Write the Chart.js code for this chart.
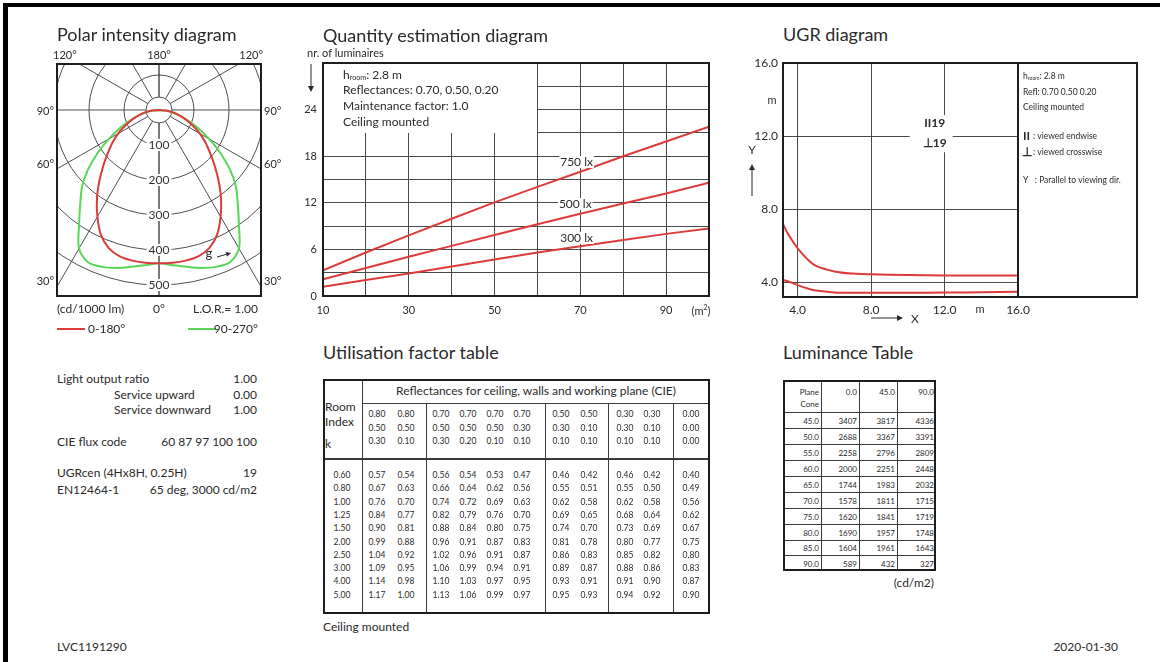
<!DOCTYPE html>
<html>
<head>
<meta charset="utf-8">
<title>Photometric data sheet</title>
<script src="https://cdn.jsdelivr.net/npm/chart.js@4.4.1/dist/chart.umd.min.js"></script>
<style>
  body { margin: 0; background: #fff; }
  #page { position: relative; width: 1169px; height: 662px; overflow: hidden; font-family: Lato, 'Open Sans', sans-serif; color: #2a2a2a; }
  #page canvas { position: absolute; }
  .t { position: absolute; white-space: nowrap; line-height: 1; }
  .r { position: absolute; background: #3a3a3a; }
  .b { position: absolute; box-sizing: border-box; border: 2px solid #1e1e1e; }
</style>
</head>
<body>
<div id="page">
  <div class="r" style="left:3px;top:3px;width:1157px;height:4px;background:#000"></div>
  <div class="r" style="left:3px;top:3px;width:5px;height:659px;background:#000"></div>
  <canvas id="polar" width="270" height="300" style="left:20px;top:40px"></canvas>
  <canvas id="qty" width="430" height="280" style="left:290px;top:40px"></canvas>
  <canvas id="ugr" width="429" height="290" style="left:740px;top:50px"></canvas>
</div>
<script>
// polar intensity (cd/1000 lm), gamma 0 = straight down
const polarGamma = [0, 5, 10, 15, 20, 25, 30, 35, 40, 45, 50, 55, 60, 65, 70, 75, 80, 85, 90];
const polar0to180 = [438, 438, 437, 433, 420, 393, 352, 309, 265, 225, 190, 162, 135, 107, 82, 60, 40, 20, 0];
const polar90to270 = [438, 445, 455, 467, 477, 480, 457, 398, 350, 311, 265, 214, 165, 124, 88, 60, 38, 18, 0];
const polarRings = [100, 200, 300, 400, 500];
const polarSpokes = [0, 30, 60, 90, 120, 150, 180];
const polarHub = 37;

// quantity estimation (m2 -> nr. of luminaires)
const qtyArea = [10, 20, 30, 40, 50, 60, 70, 80, 90, 100];
const qty750 = [3.3, 5.6, 7.8, 9.95, 12.05, 14.05, 16.0, 18.0, 19.9, 21.8];
const qty500 = [2.15, 3.6, 5.05, 6.45, 7.85, 9.25, 10.6, 11.9, 13.2, 14.6];
const qty300 = [1.2, 2.05, 2.9, 3.8, 4.7, 5.6, 6.4, 7.2, 8.0, 8.7];
const qtyXLabels = [10, 30, 50, 70, 90];
const qtyYLabels = [0, 6, 12, 18, 24];

// UGR diagram
const ugrX = [3.2, 3.5, 4, 4.5, 5, 6, 7, 8, 10, 12, 14, 16];
const ugrUpper = [7.18, 6.6, 5.86, 5.3, 4.9, 4.6, 4.48, 4.44, 4.4, 4.38, 4.38, 4.38];
const ugrLower = [4.13, 4.05, 3.85, 3.68, 3.55, 3.45, 3.43, 3.43, 3.43, 3.44, 3.46, 3.49];
const ugrTicks = [4, 8, 12, 16];

// utilisation factor table
const utRoomIndex = [0.60, 0.80, 1.00, 1.25, 1.50, 2.00, 2.50, 3.00, 4.00, 5.00];
const utCeiling = [0.80, 0.80, 0.70, 0.70, 0.70, 0.70, 0.50, 0.50, 0.30, 0.30, 0.00];
const utWalls = [0.50, 0.50, 0.50, 0.50, 0.50, 0.30, 0.30, 0.10, 0.30, 0.10, 0.00];
const utPlane = [0.30, 0.10, 0.30, 0.20, 0.10, 0.10, 0.10, 0.10, 0.10, 0.10, 0.00];
const utValues = [
  [0.57, 0.54, 0.56, 0.54, 0.53, 0.47, 0.46, 0.42, 0.46, 0.42, 0.40],
  [0.67, 0.63, 0.66, 0.64, 0.62, 0.56, 0.55, 0.51, 0.55, 0.50, 0.49],
  [0.76, 0.70, 0.74, 0.72, 0.69, 0.63, 0.62, 0.58, 0.62, 0.58, 0.56],
  [0.84, 0.77, 0.82, 0.79, 0.76, 0.70, 0.69, 0.65, 0.68, 0.64, 0.62],
  [0.90, 0.81, 0.88, 0.84, 0.80, 0.75, 0.74, 0.70, 0.73, 0.69, 0.67],
  [0.99, 0.88, 0.96, 0.91, 0.87, 0.83, 0.81, 0.78, 0.80, 0.77, 0.75],
  [1.04, 0.92, 1.02, 0.96, 0.91, 0.87, 0.86, 0.83, 0.85, 0.82, 0.80],
  [1.09, 0.95, 1.06, 0.99, 0.94, 0.91, 0.89, 0.87, 0.88, 0.86, 0.83],
  [1.14, 0.98, 1.10, 1.03, 0.97, 0.95, 0.93, 0.91, 0.91, 0.90, 0.87],
  [1.17, 1.00, 1.13, 1.06, 0.99, 0.97, 0.95, 0.93, 0.94, 0.92, 0.90]
];

// luminance table (cd/m2)
const lumPlanes = [0.0, 45.0, 90.0];
const lumCones = [45.0, 50.0, 55.0, 60.0, 65.0, 70.0, 75.0, 80.0, 85.0, 90.0];
const lumPlane0 = [3407, 2688, 2258, 2000, 1744, 1578, 1620, 1690, 1604, 589];
const lumPlane45 = [3817, 3367, 2796, 2251, 1983, 1811, 1841, 1957, 1961, 432];
const lumPlane90 = [4336, 3391, 2809, 2448, 2032, 1715, 1719, 1748, 1643, 327];

const RED = '#dc3b3b';
const GREEN = '#58d658';
const INK = '#2a2a2a';
const FONT = "Lato, 'Open Sans', sans-serif";

Chart.defaults.font.family = FONT;
Chart.defaults.color = INK;
Chart.defaults.animation = false;
Chart.defaults.responsive = false;
Chart.defaults.plugins.legend.display = false;
Chart.defaults.plugins.tooltip.enabled = false;

const page = document.getElementById('page');

const put = (x, y, html, size = 12, align = 'left') => {
  const d = document.createElement('div');
  d.className = 't';
  d.style.left = x + 'px';
  d.style.top = y + 'px';
  d.style.fontSize = size + 'px';
  const tx = align === 'right' ? '-100%' : align === 'center' ? '-50%' : '0';
  d.style.transform = `translate(${tx}, -50%)`;
  d.innerHTML = html;
  page.appendChild(d);
  return d;
};

const rule = (x, y, w, h, color) => {
  const d = document.createElement('div');
  d.className = 'r';
  d.style.cssText = `left:${x}px;top:${y}px;width:${w}px;height:${h}px;` + (color ? `background:${color}` : '');
  page.appendChild(d);
};

const frame = (l, t, r, b) => {
  const d = document.createElement('div');
  d.className = 'b';
  d.style.cssText = `left:${l}px;top:${t}px;width:${r - l}px;height:${b - t}px`;
  page.appendChild(d);
};

const arrow = (ctx, x1, y1, x2, y2, head = 5) => {
  const a = Math.atan2(y2 - y1, x2 - x1);
  ctx.beginPath();
  ctx.moveTo(x1, y1);
  ctx.lineTo(x2 - Math.cos(a) * head, y2 - Math.sin(a) * head);
  ctx.stroke();
  ctx.beginPath();
  ctx.moveTo(x2, y2);
  ctx.lineTo(x2 - Math.cos(a) * head - Math.sin(a) * head * 0.5, y2 - Math.sin(a) * head + Math.cos(a) * head * 0.5);
  ctx.lineTo(x2 - Math.cos(a) * head + Math.sin(a) * head * 0.5, y2 - Math.sin(a) * head - Math.cos(a) * head * 0.5);
  ctx.closePath();
  ctx.fill();
};

// "h" with "room" subscript, then the rest
const hRoom = (ctx, x, y, rest, size) => {
  ctx.font = `${size}px ${FONT}`;
  ctx.fillText('h', x, y);
  let w = ctx.measureText('h').width;
  ctx.font = `${size * 0.6}px ${FONT}`;
  ctx.fillText('room', x + w, y + size * 0.25);
  w += ctx.measureText('room').width;
  ctx.font = `${size}px ${FONT}`;
  ctx.fillText(rest, x + w, y);
};

// ---------- polar intensity diagram ----------
const polarPoints = (vals) => {
  const rad = polarGamma.map(g => g * Math.PI / 180);
  const left = rad.map((t, i) => ({ x: -vals[i] * Math.sin(t), y: -vals[i] * Math.cos(t) })).reverse();
  const right = rad.slice(1).map((t, i) => ({ x: vals[i + 1] * Math.sin(t), y: -vals[i + 1] * Math.cos(t) }));
  return left.concat(right);
};

const polarDecor = {
  id: 'polarDecor',
  beforeDatasetsDraw(chart) {
    const { ctx, chartArea: a, scales: { x, y } } = chart;
    const cx = x.getPixelForValue(0);
    const cy = y.getPixelForValue(0);
    const k = (x.getPixelForValue(100) - cx) / 100;
    ctx.save();
    ctx.beginPath();
    ctx.rect(a.left, a.top, a.right - a.left, a.bottom - a.top);
    ctx.clip();
    ctx.strokeStyle = '#4e4e4e';
    ctx.lineWidth = 1;
    [polarHub, ...polarRings].forEach(r => {
      ctx.beginPath();
      ctx.arc(cx, cy, r * k, 0, Math.PI * 2);
      ctx.stroke();
    });
    polarSpokes.forEach(g => {
      const t = g * Math.PI / 180;
      [-1, 1].forEach(s => {
        ctx.beginPath();
        ctx.moveTo(cx + s * Math.sin(t) * polarHub * k, cy + Math.cos(t) * polarHub * k);
        ctx.lineTo(cx + s * Math.sin(t) * 1000 * k, cy + Math.cos(t) * 1000 * k);
        ctx.stroke();
      });
    });
    ctx.font = `12px ${FONT}`;
    ctx.textAlign = 'center';
    ctx.textBaseline = 'middle';
    polarRings.forEach(r => {
      const py = cy + r * k;
      const w = ctx.measureText(String(r)).width;
      ctx.fillStyle = '#fff';
      ctx.fillRect(cx - w / 2 - 2, py - 6, w + 4, 12);
      ctx.fillStyle = '#333';
      ctx.fillText(String(r), cx, py);
    });
    ctx.restore();
  },
  afterDraw(chart) {
    const { ctx, chartArea: a } = chart;
    ctx.save();
    ctx.strokeStyle = '#1e1e1e';
    ctx.lineWidth = 2;
    ctx.strokeRect(a.left, a.top, a.right - a.left, a.bottom - a.top);
    ctx.fillStyle = INK;
    ctx.strokeStyle = INK;
    ctx.lineWidth = 1;
    ctx.font = `13px ${FONT}`;
    ctx.textAlign = 'center';
    ctx.textBaseline = 'middle';
    ctx.fillText('g', 189, 214);
    arrow(ctx, 197, 217, 211, 213, 5);
    ctx.restore();
  }
};

new Chart(document.getElementById('polar'), {
  type: 'scatter',
  data: {
    datasets: [
      { label: '0-180°', data: polarPoints(polar0to180), showLine: true, borderColor: RED, borderWidth: 2, pointRadius: 0, tension: 0.3 },
      { label: '90-270°', data: polarPoints(polar90to270), showLine: true, borderColor: GREEN, borderWidth: 2, pointRadius: 0, tension: 0.3 }
    ]
  },
  options: {
    layout: { padding: { left: 37, right: 29, top: 24, bottom: 44 } },
    scales: {
      x: { type: 'linear', min: -291.4, max: 291.4, display: false },
      y: { type: 'linear', min: -531.4, max: 131.4, display: false }
    }
  },
  plugins: [polarDecor]
});

put(57, 34, 'Polar intensity diagram', 18);
put(53, 54, '120°', 11);
put(159, 54, '180°', 11, 'center');
put(263, 54, '120°', 11, 'right');
[['90°', 110], ['60°', 163], ['30°', 280]].forEach(([s, y]) => {
  put(54, y, s, 11, 'right');
  put(264, y, s, 11);
});
put(57, 309, '(cd/1000 lm)', 12);
put(159, 309, '0°', 12, 'center');
put(258, 309, 'L.O.R.= 1.00', 12, 'right');
rule(57, 328, 28, 2, RED);
put(88, 329, '0-180°', 12);
rule(188, 328, 28, 2, GREEN);
put(258, 329, '90-270°', 12, 'right');

// ---------- quantity estimation diagram ----------
const qtyNoteBox = { x0: 10, x1: 60, y0: 21, y1: 30 };
const qtyLabelPos = [[65.3, 17.25], [65.0, 11.85], [65.3, 7.47]];

const qtyDecor = {
  id: 'qtyDecor',
  beforeDatasetsDraw(chart) {
    const { ctx, scales: { x, y } } = chart;
    const L = Math.round(x.getPixelForValue(qtyNoteBox.x0)) + 1;
    const R = Math.round(x.getPixelForValue(qtyNoteBox.x1));
    const T = Math.round(y.getPixelForValue(qtyNoteBox.y1)) + 1;
    const B = Math.round(y.getPixelForValue(qtyNoteBox.y0));
    ctx.save();
    ctx.fillStyle = '#fff';
    ctx.fillRect(L, T, R - L, B - T);
    ctx.fillStyle = INK;
    ctx.textBaseline = 'middle';
    ctx.textAlign = 'left';
    const tx = L + 19;
    hRoom(ctx, tx, T + 11, ': 2.8 m', 12);
    ctx.font = `12px ${FONT}`;
    ctx.fillText('Reflectances: 0.70, 0.50, 0.20', tx, T + 26);
    ctx.fillText('Maintenance factor: 1.0', tx, T + 42);
    ctx.fillText('Ceiling mounted', tx, T + 58);
    ctx.restore();
  },
  afterDatasetsDraw(chart) {
    const { ctx, scales: { x, y } } = chart;
    ctx.save();
    ctx.font = `12px ${FONT}`;
    ctx.textBaseline = 'middle';
    ctx.textAlign = 'left';
    qtyLabelPos.forEach(([lx, ly], i) => {
      const s = chart.data.datasets[i].label;
      const px = x.getPixelForValue(lx);
      const py = y.getPixelForValue(ly);
      const w = ctx.measureText(s).width;
      ctx.fillStyle = '#fff';
      ctx.fillRect(px - 1, py - 6, w + 2, 12);
      ctx.fillStyle = INK;
      ctx.fillText(s, px, py);
    });
    ctx.restore();
  },
  afterDraw(chart) {
    const { ctx, chartArea: a } = chart;
    ctx.save();
    ctx.strokeStyle = '#1e1e1e';
    ctx.lineWidth = 2;
    ctx.strokeRect(a.left, a.top, a.right - a.left, a.bottom - a.top);
    ctx.strokeStyle = INK;
    ctx.fillStyle = INK;
    ctx.lineWidth = 1;
    arrow(ctx, 21, 24, 21, 52, 6);
    ctx.restore();
  }
};

const qtySeries = (vals) => qtyArea.map((x, i) => ({ x, y: vals[i] }));

new Chart(document.getElementById('qty'), {
  type: 'line',
  data: {
    datasets: [
      { label: '750 lx', data: qtySeries(qty750) },
      { label: '500 lx', data: qtySeries(qty500) },
      { label: '300 lx', data: qtySeries(qty300) }
    ].map(d => Object.assign(d, { borderColor: RED, borderWidth: 2, pointRadius: 0, tension: 0 }))
  },
  options: {
    layout: { padding: { left: 5, right: 11, top: 23, bottom: 4 } },
    scales: {
      x: {
        type: 'linear', min: 10, max: 100,
        ticks: { stepSize: 10, autoSkip: false, maxRotation: 0, padding: 8, font: { size: 11 },
          callback: v => qtyXLabels.includes(v) ? String(v) : '' },
        grid: { color: '#4a4a4a', drawTicks: false },
        border: { display: false },
        afterFit: s => { s.height = 20; }
      },
      y: {
        type: 'linear', min: 0, max: 30,
        ticks: { stepSize: 3, autoSkip: false, padding: 6, font: { size: 11 },
          callback: v => qtyYLabels.includes(v) ? String(v) : '' },
        grid: { color: '#4a4a4a', drawTicks: false },
        border: { display: false },
        afterFit: s => { s.width = 28; }
      }
    }
  },
  plugins: [qtyDecor]
});

put(323, 35, 'Quantity estimation diagram', 18);
put(307, 52, 'nr. of luminaires', 11);
put(701, 310, '(m<sup style="font-size:7px">2</sup>)', 11, 'center');

// ---------- UGR diagram ----------
const ugrNote = { x: 11.46, yTop: 12.69, yBottom: 11.6, patch: [10.1, 12.44, 13.15, 11.12] };

const ugrDecor = {
  id: 'ugrDecor',
  beforeDatasetsDraw(chart) {
    const { ctx, scales: { x, y } } = chart;
    const [px0, px1, py0, py1] = ugrNote.patch;
    const l = x.getPixelForValue(px0), r = x.getPixelForValue(px1);
    const t = y.getPixelForValue(py0), b = y.getPixelForValue(py1);
    ctx.save();
    ctx.fillStyle = '#fff';
    ctx.fillRect(l, t, r - l, b - t);
    ctx.fillStyle = INK;
    ctx.font = `bold 12px ${FONT}`;
    ctx.textAlign = 'center';
    ctx.textBaseline = 'middle';
    const cx = x.getPixelForValue(ugrNote.x);
    ctx.fillText('II19', cx, y.getPixelForValue(ugrNote.yTop));
    ctx.fillText('\u22A519', cx, y.getPixelForValue(ugrNote.yBottom));
    ctx.restore();
  },
  afterDraw(chart) {
    const { ctx, chartArea: a } = chart;
    ctx.save();
    ctx.strokeStyle = '#1e1e1e';
    ctx.lineWidth = 2;
    ctx.strokeRect(a.left, a.top, a.right - a.left, a.bottom - a.top);
    ctx.strokeRect(a.right, a.top, 119, a.bottom - a.top);
    ctx.fillStyle = INK;
    ctx.textAlign = 'left';
    ctx.textBaseline = 'middle';
    const lx = a.right + 5;
    hRoom(ctx, lx, a.top + 13, ': 2.8 m', 8.5);
    ctx.font = `8.5px ${FONT}`;
    ctx.fillText('Refl: 0.70 0.50 0.20', lx, a.top + 29);
    ctx.fillText('Ceiling mounted', lx, a.top + 44);
    ctx.font = `bold 12px ${FONT}`;
    ctx.fillText('II', lx, a.top + 73);
    ctx.fillText('\u22A5', lx - 1, a.top + 89);
    ctx.font = `8.5px ${FONT}`;
    ctx.fillText(': viewed endwise', lx + 10, a.top + 73);
    ctx.fillText(': viewed crosswise', lx + 10, a.top + 89);
    ctx.fillText('Y   : Parallel to viewing dir.', lx, a.top + 117);
    // axis hints
    ctx.font = `11px ${FONT}`;
    ctx.textAlign = 'center';
    ctx.fillText('m', 32, 50);
    ctx.fillText('m', 240, 259);
    ctx.font = `12px ${FONT}`;
    ctx.fillText('Y', 12, 100);
    ctx.fillText('X', 175, 269);
    ctx.strokeStyle = INK;
    ctx.lineWidth = 1;
    arrow(ctx, 12, 146, 12, 114, 6);
    arrow(ctx, 131, 268, 163, 268, 6);
    ctx.restore();
  }
};

const ugrSeries = (vals) => ugrX.map((x, i) => ({ x, y: vals[i] }));
const ugrAxis = (extra) => Object.assign({
  type: 'linear', min: 3.2, max: 16,
  afterBuildTicks: s => { s.ticks = ugrTicks.map(v => ({ value: v })); },
  grid: { color: '#4a4a4a', drawTicks: false },
  border: { display: false }
}, extra);

new Chart(document.getElementById('ugr'), {
  type: 'line',
  data: {
    datasets: [
      { label: 'upper', data: ugrSeries(ugrUpper) },
      { label: 'lower', data: ugrSeries(ugrLower) }
    ].map(d => Object.assign(d, { borderColor: RED, borderWidth: 2, pointRadius: 0, tension: 0.35 }))
  },
  options: {
    layout: { padding: { left: 3, right: 151, top: 13, bottom: 23 } },
    scales: {
      x: ugrAxis({
        ticks: { autoSkip: false, maxRotation: 0, padding: 6, font: { size: 12 }, callback: v => Number(v).toFixed(1) },
        afterFit: s => { s.height = 20; }
      }),
      y: ugrAxis({
        ticks: { autoSkip: false, padding: 5, font: { size: 12 }, callback: v => Number(v).toFixed(1) },
        afterFit: s => { s.width = 40; }
      })
    }
  },
  plugins: [ugrDecor]
});

put(783, 34, 'UGR diagram', 18);

// ---------- left info block ----------
[
  ['Light output ratio', 57, 379, '1.00'],
  ['Service upward', 114, 395, '0.00'],
  ['Service downward', 114, 410, '1.00'],
  ['CIE flux code', 57, 442, '60 87 97 100 100'],
  ['UGRcen (4Hx8H, 0.25H)', 57, 473, '19'],
  ['EN12464-1', 57, 490, '65 deg, 3000 cd/m2']
].forEach(([label, x, y, val]) => {
  put(x, y, label, 12);
  put(257, y, val, 12, 'right');
});

// ---------- utilisation factor table ----------
const utBox = { left: 323, top: 379, right: 710, bottom: 614 };
const utIdxLine = 362;
const utHeadLine = 403;
const utBodyLine = 458;
const utGroupLines = [426, 545, 608, 673];
const utColX = [377, 406, 441, 468, 495, 522, 561, 589, 625, 652, 691];
const utHeadY = [414, 427.5, 441];
const utRowY = (i) => 475 + i * 13.3;
const utFont = 8.5;

put(323, 352, 'Utilisation factor table', 18);
rule(utIdxLine, utBox.top, 1, utBox.bottom - utBox.top);
rule(utIdxLine, utHeadLine, utBox.right - utIdxLine, 1);
rule(utBox.left, utBodyLine, utBox.right - utBox.left, 1.5);
utGroupLines.forEach(x => rule(x, utHeadLine, 1, utBox.bottom - utHeadLine));
frame(utBox.left, utBox.top, utBox.right, utBox.bottom);
put((utIdxLine + utBox.right) / 2, 391, 'Reflectances for ceiling, walls and working plane (CIE)', 12, 'center');
put(325, 407, 'Room', 12);
put(325, 422, 'Index', 12);
put(325, 444, 'k', 12);
[utCeiling, utWalls, utPlane].forEach((row, r) => {
  row.forEach((v, c) => put(utColX[c], utHeadY[r], v.toFixed(2), utFont, 'center'));
});
utRoomIndex.forEach((k, i) => {
  put(342, utRowY(i), k.toFixed(2), utFont, 'center');
  utValues[i].forEach((v, c) => put(utColX[c], utRowY(i), v.toFixed(2), utFont, 'center'));
});
put(323, 627, 'Ceiling mounted', 12);

// ---------- luminance table ----------
const lumBox = { left: 783, top: 380, right: 936, bottom: 571 };
const lumColLines = [821, 859, 897];
const lumRowLines = [412, 428, 444, 460, 476, 492, 508, 524, 540, 555];
const lumColRight = [819, 857, 895, 934];
const lumFont = 8;

put(783, 352, 'Luminance Table', 18);
lumColLines.forEach(x => rule(x, lumBox.top, 1, lumBox.bottom - lumBox.top));
lumRowLines.forEach(y => rule(lumBox.left, y, lumBox.right - lumBox.left, 1));
frame(lumBox.left, lumBox.top, lumBox.right, lumBox.bottom);
put(lumColRight[0], 392, 'Plane', lumFont, 'right');
put(lumColRight[0], 404, 'Cone', lumFont, 'right');
lumPlanes.forEach((p, c) => put(lumColRight[c + 1], 392, p.toFixed(1), lumFont, 'right'));
lumCones.forEach((cone, i) => {
  const top = lumRowLines[i];
  const bottom = i + 1 < lumRowLines.length ? lumRowLines[i + 1] : lumBox.bottom;
  const y = (top + bottom) / 2 + 0.5;
  put(lumColRight[0], y, cone.toFixed(1), lumFont, 'right');
  [lumPlane0, lumPlane45, lumPlane90].forEach((col, c) => put(lumColRight[c + 1], y, String(col[i]), lumFont, 'right'));
});
put(934, 583, '(cd/m2)', 12, 'right');

// ---------- footer ----------
put(57, 647, 'LVC1191290', 12);
put(1118, 647, '2020-01-30', 12, 'right');
</script>
</body>
</html>
